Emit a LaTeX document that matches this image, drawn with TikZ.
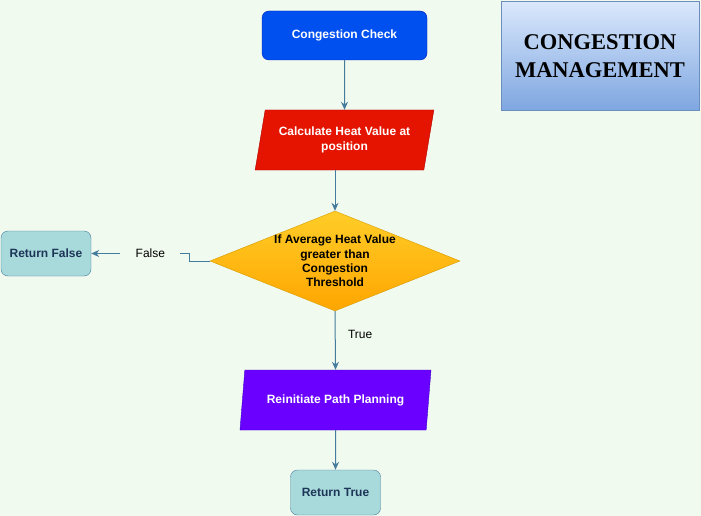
\documentclass[tikz,border=0pt]{standalone}
\usepackage{fontspec}
\setmainfont{Liberation Sans}
\newfontfamily\titlefont{Liberation Serif}
\usetikzlibrary{shapes.geometric,arrows.meta}
\definecolor{bgcol}{HTML}{F1FAEE}
\definecolor{flowcol}{HTML}{457B9D}
\definecolor{navy}{HTML}{1D3557}
\definecolor{aqua}{HTML}{A8DADC}
\definecolor{bluefill}{HTML}{0050EF}
\definecolor{blueline}{HTML}{001DBC}
\definecolor{redfill}{HTML}{E51400}
\definecolor{redline}{HTML}{B20000}
\definecolor{purplefill}{HTML}{6A00FF}
\definecolor{purpleline}{HTML}{3700CC}
\definecolor{orangetop}{HTML}{FFCD28}
\definecolor{orangebot}{HTML}{FFA500}
\definecolor{orangeline}{HTML}{D79B00}
\definecolor{titletop}{HTML}{DAE8FC}
\definecolor{titlebot}{HTML}{7EA6E0}
\definecolor{titleline}{HTML}{6C8EBF}
\tikzstyle{startbox}=[draw=blueline,fill=bluefill,text=white,rounded corners=7pt,minimum width=165pt,minimum height=49pt,font={\fontsize{12}{14.4}\selectfont\bfseries}]
\tikzstyle{iobox}=[trapezium,trapezium left angle=72,trapezium right angle=108,trapezium stretches=true,minimum height=60pt,inner sep=0pt,text=white,align=center,font={\fontsize{12}{14.4}\selectfont\bfseries}]
\tikzstyle{decision}=[diamond,draw=orangeline,top color=orangetop,bottom color=orangebot,minimum width=250pt,minimum height=100pt,aspect=2.5,inner sep=-2pt,align=center,font={\fontsize{12}{14.4}\selectfont\bfseries}]
\tikzstyle{endbox}=[draw=flowcol,fill=aqua,text=navy,rounded corners=7pt,minimum width=90pt,minimum height=45pt,font={\fontsize{12}{14.4}\selectfont\bfseries}]
\tikzstyle{titlebox}=[draw=titleline,top color=titletop,bottom color=titlebot,minimum width=198pt,minimum height=109pt,align=center,font={\titlefont\fontsize{22.5}{28.5}\selectfont\bfseries}]
\tikzstyle{flow}=[draw=flowcol,line width=1pt,->]
\tikzstyle{edgelabel}=[font={\fontsize{12}{14.4}\selectfont},text=black]

\begin{document}
\begin{tikzpicture}[x=1pt,y=-1pt,>={Stealth[length=8pt,width=7pt]}]
    \fill[bgcol] (0,0) rectangle (701,516);
    \useasboundingbox (0,0) rectangle (701,516);
    \node[titlebox] (title) at (600,56) {CONGESTION\\MANAGEMENT};
    \node[startbox] (check) at (344.5,35.5) {Congestion Check};
    \node[iobox,draw=redline,fill=redfill,minimum width=179pt] (heat) at (344.5,140) {Calculate Heat Value at\\position};
    \node[decision] (cond) at (335,261) {If Average Heat Value\\greater than\\Congestion\\Threshold};
    \node[endbox] (retfalse) at (46,253.5) {Return False};
    \node[iobox,draw=purpleline,fill=purplefill,minimum width=191pt] (replan) at (335.5,400) {Reinitiate Path Planning};
    \node[endbox] (rettrue) at (335.5,492.5) {Return True};

    \foreach \from/\to in {check/heat,replan/rettrue}
    \draw[flow] (\from.south) -- (\to.north);
    \draw[flow] (heat.south -| cond.north) -- (cond.north);
    \draw[flow] (cond.south) -- (replan.north)
        node[edgelabel,pos=0.4,right,xshift=9pt] (lbltrue) {True};
    \draw[flow] (cond.west) -- ++(-20,0) |- (retfalse.east)
        node[edgelabel,pos=0.7,fill=bgcol,minimum width=60pt] (lblfalse) {False};
\end{tikzpicture}
\end{document}
